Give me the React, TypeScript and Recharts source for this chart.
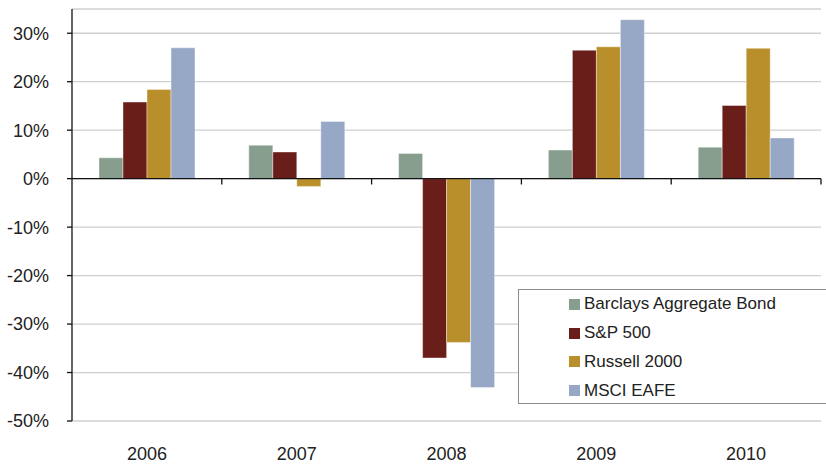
import React from 'react';
import { BarChart, Bar, XAxis, YAxis, CartesianGrid, ReferenceLine } from 'recharts';

const years = ['2006', '2007', '2008', '2009', '2010'];
const barclays = [4.3, 6.9, 5.2, 5.9, 6.5];
const sp500 = [15.8, 5.5, -37.0, 26.5, 15.1];
const russell = [18.4, -1.6, -33.8, 27.2, 26.9];
const eafe = [27.0, 11.8, -43.1, 32.8, 8.4];
const yTicks = [-50, -40, -30, -20, -10, 0, 10, 20, 30];

const seriesNames = ['Barclays Aggregate Bond', 'S&P 500', 'Russell 2000', 'MSCI EAFE'];
const seriesKeys = ['barclays', 'sp500', 'russell', 'eafe'];
const seriesColors = ['#879d8e', '#6a1e1a', '#b88f2b', '#97a8c6'];

const data = years.map((y, i) => ({
  year: y,
  barclays: barclays[i],
  sp500: sp500[i],
  russell: russell[i],
  eafe: eafe[i],
}));

const FONT = '"Liberation Sans", Arial, sans-serif';

function LegendBox() {
  return (
    <div
      style={{
        position: 'absolute',
        left: 518,
        top: 289,
        width: 320,
        height: 115,
        border: '1px solid #8c8c8c',
        background: '#fff',
        boxSizing: 'border-box',
        paddingLeft: 50,
      }}
    >
      {seriesNames.map((n, i) => (
        <div key={n} style={{ display: 'flex', alignItems: 'center', height: 28.8 }}>
          <span style={{ display: 'inline-block', width: 11, height: 11, background: seriesColors[i], marginRight: 4 }} />
          <span style={{ fontFamily: FONT, fontSize: 17, color: '#222', lineHeight: '20px' }}>{n}</span>
        </div>
      ))}
    </div>
  );
}

export default function App() {
  return (
    <div style={{ position: 'absolute', left: 0, top: 0, width: 826, height: 465, background: '#fff', overflow: 'hidden' }}>
      <BarChart
        width={826}
        height={465}
        data={data}
        margin={{ top: 9, right: 5, left: 0, bottom: 0 }}
        barCategoryGap={27}
        barGap={0}
      >
        <CartesianGrid vertical={false} stroke="#cfcfcf" strokeWidth={1.3} />
        <XAxis
          dataKey="year"
          axisLine={false}
          tickLine={false}
          tickSize={0}
          tickMargin={26}
          height={44}
          tick={{ fontFamily: FONT, fontSize: 18, fill: '#222' }}
        />
        <YAxis
          width={72}
          domain={[-50, 35]}
          ticks={yTicks}
          interval={0}
          allowDataOverflow
          tickFormatter={(v: number) => `${v}%`}
          axisLine={{ stroke: '#111', strokeWidth: 1.3 }}
          tickLine={{ stroke: '#111', strokeWidth: 1.3 }}
          tickSize={5}
          tickMargin={18}
          tick={{ fontFamily: FONT, fontSize: 18, fill: '#222' }}
        />
        {seriesKeys.map((k, i) => (
          <Bar
            key={k}
            dataKey={k}
            name={seriesNames[i]}
            fill={seriesColors[i]}
            stroke="#ffffff"
            strokeOpacity={0.5}
            strokeWidth={0.8}
            isAnimationActive={false}
          />
        ))}
        <ReferenceLine y={0} stroke="#111" strokeWidth={1.3} />
        {years.map((y) => (
          <ReferenceLine
            key={'t' + y}
            segment={[{ x: y, y: 0 }, { x: y, y: -1.2 }]}
            position="end"
            stroke="#111"
            strokeWidth={1.3}
            ifOverflow="visible"
          />
        ))}
      </BarChart>
      <LegendBox />
    </div>
  );
}
